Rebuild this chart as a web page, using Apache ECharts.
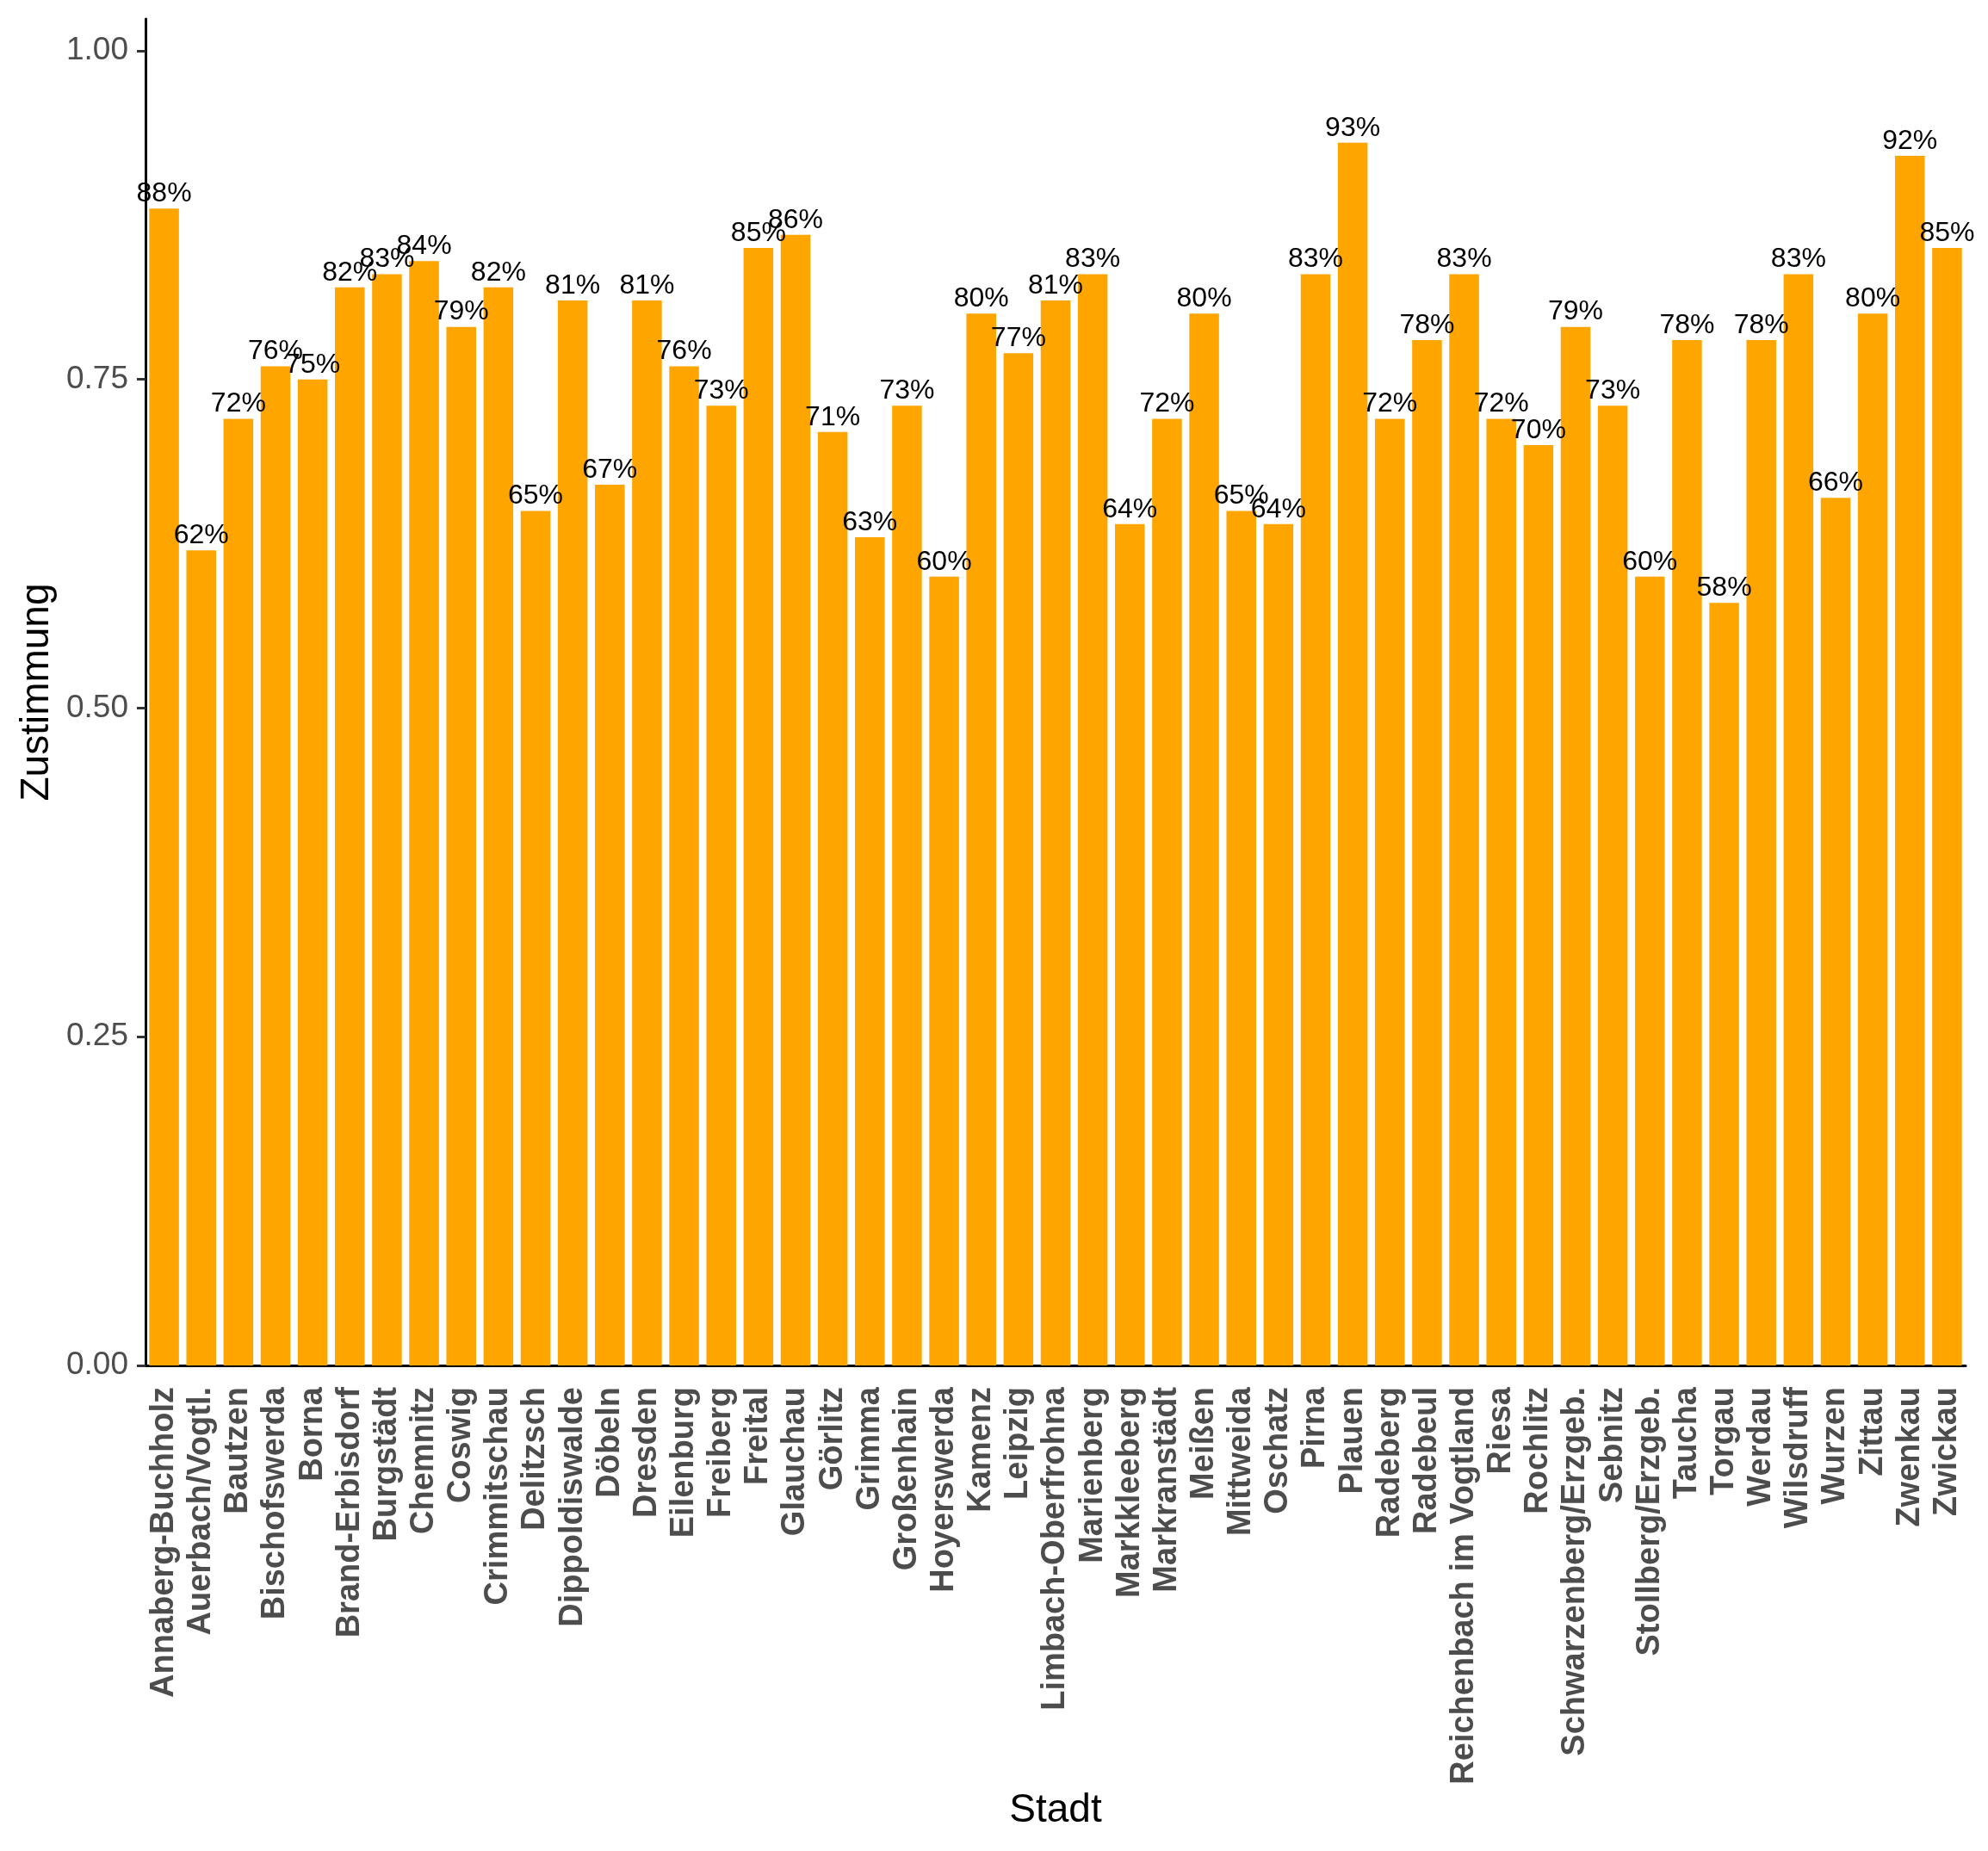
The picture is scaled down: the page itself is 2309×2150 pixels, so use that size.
<!DOCTYPE html>
<html lang="de">
<head>
    <meta charset="UTF-8">
    <title>Zustimmung nach Stadt</title>
    <script src="https://cdn.jsdelivr.net/npm/echarts@6/dist/echarts.min.js"></script>
</head>
<body style="margin:0">
<div id="main" style="width: 2309px;height:2150px;"></div>
<script type="text/javascript">
    // Städte (x-Achse)
    var staedte = ['Annaberg-Buchholz', 'Auerbach/Vogtl.', 'Bautzen', 'Bischofswerda', 'Borna',
        'Brand-Erbisdorf', 'Burgstädt', 'Chemnitz', 'Coswig', 'Crimmitschau', 'Delitzsch',
        'Dippoldiswalde', 'Döbeln', 'Dresden', 'Eilenburg', 'Freiberg', 'Freital', 'Glauchau',
        'Görlitz', 'Grimma', 'Großenhain', 'Hoyerswerda', 'Kamenz', 'Leipzig', 'Limbach-Oberfrohna',
        'Marienberg', 'Markkleeberg', 'Markranstädt', 'Meißen', 'Mittweida', 'Oschatz', 'Pirna',
        'Plauen', 'Radeberg', 'Radebeul', 'Reichenbach im Vogtland', 'Riesa', 'Rochlitz',
        'Schwarzenberg/Erzgeb.', 'Sebnitz', 'Stollberg/Erzgeb.', 'Taucha', 'Torgau', 'Werdau',
        'Wilsdruff', 'Wurzen', 'Zittau', 'Zwenkau', 'Zwickau'];
    // Zustimmung (Anteil)
    var zustimmung = [0.88, 0.62, 0.72, 0.76, 0.75, 0.82, 0.83, 0.84, 0.79, 0.82, 0.65,
        0.81, 0.67, 0.81, 0.76, 0.73, 0.85, 0.86, 0.71, 0.63, 0.73, 0.60, 0.80, 0.77, 0.81,
        0.83, 0.64, 0.72, 0.80, 0.65, 0.64, 0.83, 0.93, 0.72, 0.78, 0.83, 0.72, 0.70, 0.79,
        0.73, 0.60, 0.78, 0.58, 0.78, 0.83, 0.66, 0.80, 0.92, 0.85];
    // y-Achsen-Ticks
    var yTicks = [0, 0.25, 0.5, 0.75, 1.0];

    var myChart = echarts.init(document.getElementById('main'));
    myChart.setOption({
        animation: false,
        backgroundColor: '#ffffff',
        textStyle: { fontFamily: 'Liberation Sans, Arial, sans-serif' },
        grid: { left: 169, right: 26, top: 22, bottom: 564, containLabel: false },
        xAxis: {
            type: 'category',
            data: staedte,
            name: 'Stadt',
            nameLocation: 'middle',
            nameGap: 494,
            nameTextStyle: { fontSize: 46, color: '#000000' },
            axisLine: { lineStyle: { color: '#000000', width: 3 } },
            axisTick: { alignWithLabel: true, length: 10, lineStyle: { color: '#333333', width: 3 } },
            axisLabel: {
                interval: 0,
                rotate: 90,
                margin: 25,
                fontSize: 38,
                fontWeight: 'bold',
                color: '#4D4D4D'
            }
        },
        yAxis: {
            type: 'value',
            min: 0,
            max: 1.0242,
            name: 'Zustimmung',
            nameLocation: 'middle',
            nameRotate: 90,
            nameGap: 102,
            nameTextStyle: { fontSize: 46, color: '#000000' },
            splitLine: { show: false },
            axisLine: { show: true, lineStyle: { color: '#000000', width: 3 } },
            axisTick: { show: true, length: 10, customValues: yTicks, lineStyle: { color: '#333333', width: 3 } },
            axisLabel: {
                customValues: yTicks,
                fontSize: 37,
                color: '#4D4D4D',
                margin: 20,
                formatter: function (v) { return v.toFixed(2); }
            }
        },
        series: [{
            name: 'Zustimmung',
            type: 'bar',
            data: zustimmung,
            barWidth: '80%',
            itemStyle: { color: '#FFA500' },
            label: {
                show: true,
                position: 'top',
                distance: 1,
                fontSize: 32,
                color: '#000000',
                formatter: function (p) { return Math.round(p.value * 100) + '%'; }
            }
        }]
    });
</script>
</body>
</html>
